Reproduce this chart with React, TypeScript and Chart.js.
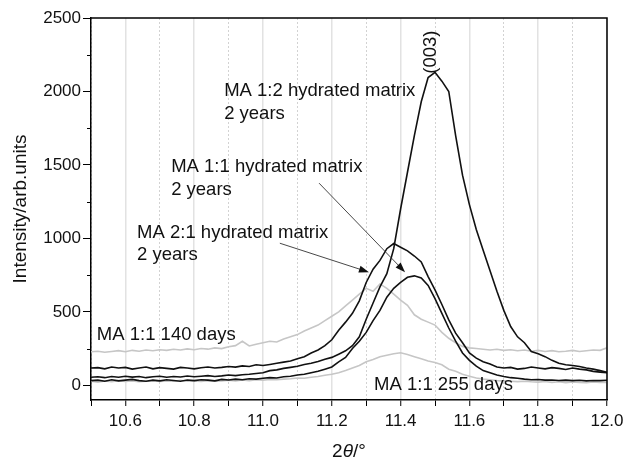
import React, { useEffect, useRef } from "react";
import { Chart, registerables } from "chart.js";

Chart.register(...registerables);

// 2θ positions (degrees) at which the traces were read
const twoTheta = [
  10.50, 10.52, 10.54, 10.56, 10.58, 10.60, 10.62, 10.64, 10.66, 10.68,
  10.70, 10.72, 10.74, 10.76, 10.78, 10.80, 10.82, 10.84, 10.86, 10.88,
  10.90, 10.92, 10.94, 10.96, 10.98, 11.00, 11.02, 11.04, 11.06, 11.08,
  11.10, 11.12, 11.14, 11.16, 11.18, 11.20, 11.22, 11.24, 11.26, 11.28,
  11.30, 11.32, 11.34, 11.36, 11.38, 11.40, 11.42, 11.44, 11.46, 11.48,
  11.50, 11.52, 11.54, 11.56, 11.58, 11.60, 11.62, 11.64, 11.66, 11.68,
  11.70, 11.72, 11.74, 11.76, 11.78, 11.80, 11.82, 11.84, 11.86, 11.88,
  11.90, 11.92, 11.94, 11.96, 11.98, 12.00,
];

// MA 1:2 hydrated matrix, 2 years
const ma12Hydrated2y = [
  55, 58, 52, 60, 55, 62, 56, 60, 52, 58,
  62, 55, 60, 57, 63, 58, 62, 66, 60, 64,
  70, 66, 72, 75, 80, 85, 100, 105, 115, 122,
  130, 142, 150, 162, 178, 190, 212, 235, 270, 330,
  450, 560, 670, 760, 930, 1200, 1450, 1700, 1930, 2095,
  2130, 2070, 2000, 1700, 1430, 1230, 1060, 920, 780, 640,
  510, 400, 330, 290, 230, 215, 195, 170, 150, 140,
  135, 128, 118, 110, 100, 88,
];

// MA 1:1 hydrated matrix, 2 years
const ma11Hydrated2y = [
  32, 35, 28, 38, 30, 35, 40, 32, 28, 35,
  30, 38, 33, 28, 36, 32, 38, 35, 30, 40,
  36, 42, 38, 45, 42, 48, 52, 50, 58, 62,
  70, 75, 85, 95, 110, 125, 160, 190, 250, 300,
  360, 440, 510, 600, 660, 700, 735, 745, 730, 680,
  590, 490, 390, 300, 220, 170, 130, 100, 85, 70,
  60, 52, 48, 42, 38, 40, 35, 36, 33, 35,
  32, 34, 30, 33, 32, 34,
];

// MA 2:1 hydrated matrix, 2 years
const ma21Hydrated2y = [
  118, 120, 112, 125, 118, 122, 110, 118, 125, 112,
  120, 115, 110, 122, 118, 112, 120, 125, 118, 122,
  128, 124, 132, 128, 140, 135, 142, 150, 158, 165,
  180, 195, 220, 240, 270, 310, 375, 430, 490, 575,
  700, 790, 850, 930, 965, 940, 915, 880, 840, 740,
  650, 550, 445, 355, 290, 220, 185, 160, 145, 125,
  118, 122, 110, 115, 125, 118, 112, 120, 115, 108,
  118, 110, 105, 95, 90, 85,
];

// MA 1:1, 140 days
const ma11Days140 = [
  228, 232, 225, 230, 236, 228, 238, 232, 240, 235,
  242, 238, 245, 240, 248, 242, 250, 246, 255, 250,
  262, 270, 300, 268, 280, 290, 300, 295, 315, 330,
  345, 370, 390, 410, 440, 470, 500, 540, 580, 620,
  660, 640, 690, 660, 620, 580, 545, 480, 450, 430,
  410, 360, 320, 290, 265, 255, 250, 245, 240, 245,
  238, 242, 235, 240, 232, 238, 230, 236, 228, 232,
  238, 230, 235, 240, 238, 255,
];

// MA 1:1, 255 days
const ma11Days255 = [
  28, 22, 30, 25, 32, 26, 30, 24, 28, 32,
  26, 30, 28, 34, 28, 30, 26, 32, 28, 30,
  34, 30, 36, 32, 38, 35, 40, 38, 42, 45,
  50, 48, 55, 60, 68, 75, 85, 100, 118, 135,
  160, 175, 195, 205, 215, 222, 210, 195, 180, 165,
  155, 140, 110, 95, 75, 62, 50, 42, 38, 32,
  30, 28, 25, 28, 24, 22, 26, 20, 24, 18,
  22, 20, 18, 22, 20, 20,
];

const xTicks = [10.5, 10.6, 10.7, 10.8, 10.9, 11.0, 11.1, 11.2, 11.3, 11.4, 11.5, 11.6, 11.7, 11.8, 11.9, 12.0];
const xTickLabels = ["10.6", "10.8", "11.0", "11.2", "11.4", "11.6", "11.8", "12.0"];
const yTicks = [0, 500, 1000, 1500, 2000, 2500];
const yMinorTicks = [250, 750, 1250, 1750, 2250];

const FONT = '"Liberation Sans", Arial, Helvetica, sans-serif';

const toPoints = (ys: number[]) => twoTheta.map((x, i) => ({ x, y: ys[i] }));
const isMajorX = (v: number) => Math.round(v * 10) % 2 === 0;

const annotationPlugin = {
  id: "xrdAnnotations",
  afterDraw(chart: any) {
    const { ctx, chartArea } = chart;
    const xs = chart.scales.x;
    const ys = chart.scales.y;
    const px = (v: number) => xs.getPixelForValue(v);
    const py = (v: number) => ys.getPixelForValue(v);

    ctx.save();
    // frame top and right
    ctx.strokeStyle = "#000";
    ctx.lineWidth = 1.5;
    ctx.beginPath();
    ctx.moveTo(chartArea.left, chartArea.top);
    ctx.lineTo(chartArea.right, chartArea.top);
    ctx.lineTo(chartArea.right, chartArea.bottom);
    ctx.stroke();

    // minor y ticks
    ctx.lineWidth = 1;
    for (const v of yMinorTicks) {
      const y = Math.round(py(v)) + 0.5;
      ctx.beginPath();
      ctx.moveTo(chartArea.left - 4, y);
      ctx.lineTo(chartArea.left, y);
      ctx.stroke();
    }

    // text labels
    ctx.fillStyle = "#111";
    ctx.font = `18.5px ${FONT}`;
    ctx.textAlign = "left";
    ctx.textBaseline = "middle";
    const labels: [string, number, number][] = [
      ["MA 1:2 hydrated matrix", 10.887, 2003],
      ["2 years", 10.887, 1846],
      ["MA 1:1 hydrated matrix", 10.733, 1485],
      ["2 years", 10.733, 1328],
      ["MA 2:1 hydrated matrix", 10.634, 1035],
      ["2 years", 10.634, 886],
      ["MA 1:1 140 days", 10.517, 341],
      ["MA 1:1 255 days", 11.323, 2],
    ];
    for (const [t, x, y] of labels) ctx.fillText(t, px(x), py(y));

    // (003) rotated
    ctx.save();
    ctx.translate(px(11.488), py(2268));
    ctx.rotate(-Math.PI / 2);
    ctx.textAlign = "center";
    ctx.fillText("(003)", 0, 0);
    ctx.restore();

    // arrows
    const arrow = (x1: number, y1: number, x2: number, y2: number) => {
      const ax = px(x1), ay = py(y1), bx = px(x2), by = py(y2);
      const ang = Math.atan2(by - ay, bx - ax);
      const len = 10, half = 3.5;
      ctx.strokeStyle = "#333";
      ctx.lineWidth = 0.9;
      ctx.beginPath();
      ctx.moveTo(ax, ay);
      ctx.lineTo(bx - Math.cos(ang) * len * 0.8, by - Math.sin(ang) * len * 0.8);
      ctx.stroke();
      ctx.fillStyle = "#111";
      ctx.beginPath();
      ctx.moveTo(bx, by);
      ctx.lineTo(bx - Math.cos(ang) * len + Math.sin(ang) * half, by - Math.sin(ang) * len - Math.cos(ang) * half);
      ctx.lineTo(bx - Math.cos(ang) * len - Math.sin(ang) * half, by - Math.sin(ang) * len + Math.cos(ang) * half);
      ctx.closePath();
      ctx.fill();
    };
    arrow(11.163, 1376, 11.413, 770);
    arrow(11.049, 967, 11.308, 770);

    // axis titles
    ctx.fillStyle = "#111";
    ctx.font = `19px ${FONT}`;
    ctx.save();
    ctx.translate(21, (chartArea.top + chartArea.bottom) / 2);
    ctx.rotate(-Math.PI / 2);
    ctx.textAlign = "center";
    ctx.textBaseline = "middle";
    ctx.fillText("Intensity/arb.units", 0, 0);
    ctx.restore();

    // 2θ/° with italic θ
    const normal = `19px ${FONT}`;
    const italic = `italic 19px ${FONT}`;
    ctx.font = normal;
    const w1 = ctx.measureText("2").width;
    const w3 = ctx.measureText("/°").width;
    ctx.font = italic;
    const w2 = ctx.measureText("θ").width;
    const total = w1 + w2 + w3;
    let x0 = (chartArea.left + chartArea.right) / 2 - total / 2;
    const yT = 452;
    ctx.textAlign = "left";
    ctx.textBaseline = "middle";
    ctx.font = normal;
    ctx.fillText("2", x0, yT);
    x0 += w1;
    ctx.font = italic;
    ctx.fillText("θ", x0, yT);
    x0 += w2;
    ctx.font = normal;
    ctx.fillText("/°", x0, yT);
    ctx.restore();
  },
};

export default function App() {
  const ref = useRef<HTMLCanvasElement | null>(null);

  useEffect(() => {
    document.body.style.margin = "0";
    const canvas = ref.current;
    if (!canvas) return;
    const black = "#111";
    const gray = "#c6c6c6";
    const chart = new Chart(canvas, {
      type: "line",
      data: {
        datasets: [
          { label: "MA 1:2 hydrated matrix 2 years", data: toPoints(ma12Hydrated2y), borderColor: black, borderWidth: 1.6 },
          { label: "MA 1:1 hydrated matrix 2 years", data: toPoints(ma11Hydrated2y), borderColor: black, borderWidth: 1.6 },
          { label: "MA 2:1 hydrated matrix 2 years", data: toPoints(ma21Hydrated2y), borderColor: black, borderWidth: 1.6 },
          { label: "MA 1:1 140 days", data: toPoints(ma11Days140), borderColor: gray, borderWidth: 1.6 },
          { label: "MA 1:1 255 days", data: toPoints(ma11Days255), borderColor: gray, borderWidth: 1.6 },
        ],
      },
      options: {
        responsive: false,
        animation: false,
        devicePixelRatio: 1,
        layout: { padding: { left: 0, top: 18, right: 23, bottom: 0 } },
        elements: { point: { radius: 0 }, line: { tension: 0, fill: false } },
        plugins: { legend: { display: false }, tooltip: { enabled: false } },
        scales: {
          x: {
            type: "linear",
            min: 10.5,
            max: 12.0,
            afterBuildTicks: (s: any) => {
              s.ticks = xTicks.map((v) => ({ value: v }));
            },
            afterFit: (s: any) => {
              s.height = 63;
            },
            ticks: {
              autoSkip: false,
              maxRotation: 0,
              padding: 5,
              color: "#111",
              font: { family: FONT, size: 17 },
              callback: (v: any) => {
                const s = Number(v).toFixed(1);
                return xTickLabels.includes(s) ? s : "";
              },
            },
            grid: {
              color: (c: any) => (c.tick && isMajorX(c.tick.value) ? "#e2e2e2" : "#d2d2d2"),
              lineWidth: (c: any) => (c.tick && isMajorX(c.tick.value) ? 1.5 : 1),
              tickColor: "#000",
              tickLength: 6,
              tickWidth: 1,
            },
            border: {
              color: "#000",
              width: 1.5,
              dash: (c: any) => (c.tick && !isMajorX(c.tick.value) ? [2, 2] : []),
            },
          },
          y: {
            type: "linear",
            min: -100,
            max: 2500,
            afterBuildTicks: (s: any) => {
              s.ticks = yTicks.map((v) => ({ value: v }));
            },
            afterFit: (s: any) => {
              s.width = 91;
            },
            ticks: {
              padding: 2,
              color: "#111",
              font: { family: FONT, size: 17 },
              callback: (v: any) => String(v),
            },
            grid: {
              drawOnChartArea: false,
              tickColor: "#000",
              tickLength: 8,
              tickWidth: 1,
            },
            border: { color: "#000", width: 1.5 },
          },
        },
      },
      plugins: [annotationPlugin],
    } as any);
    return () => chart.destroy();
  }, []);

  return (
    <div style={{ position: "absolute", left: 0, top: 0, width: 630, height: 463 }}>
      <canvas ref={ref} width={630} height={463} />
    </div>
  );
}
